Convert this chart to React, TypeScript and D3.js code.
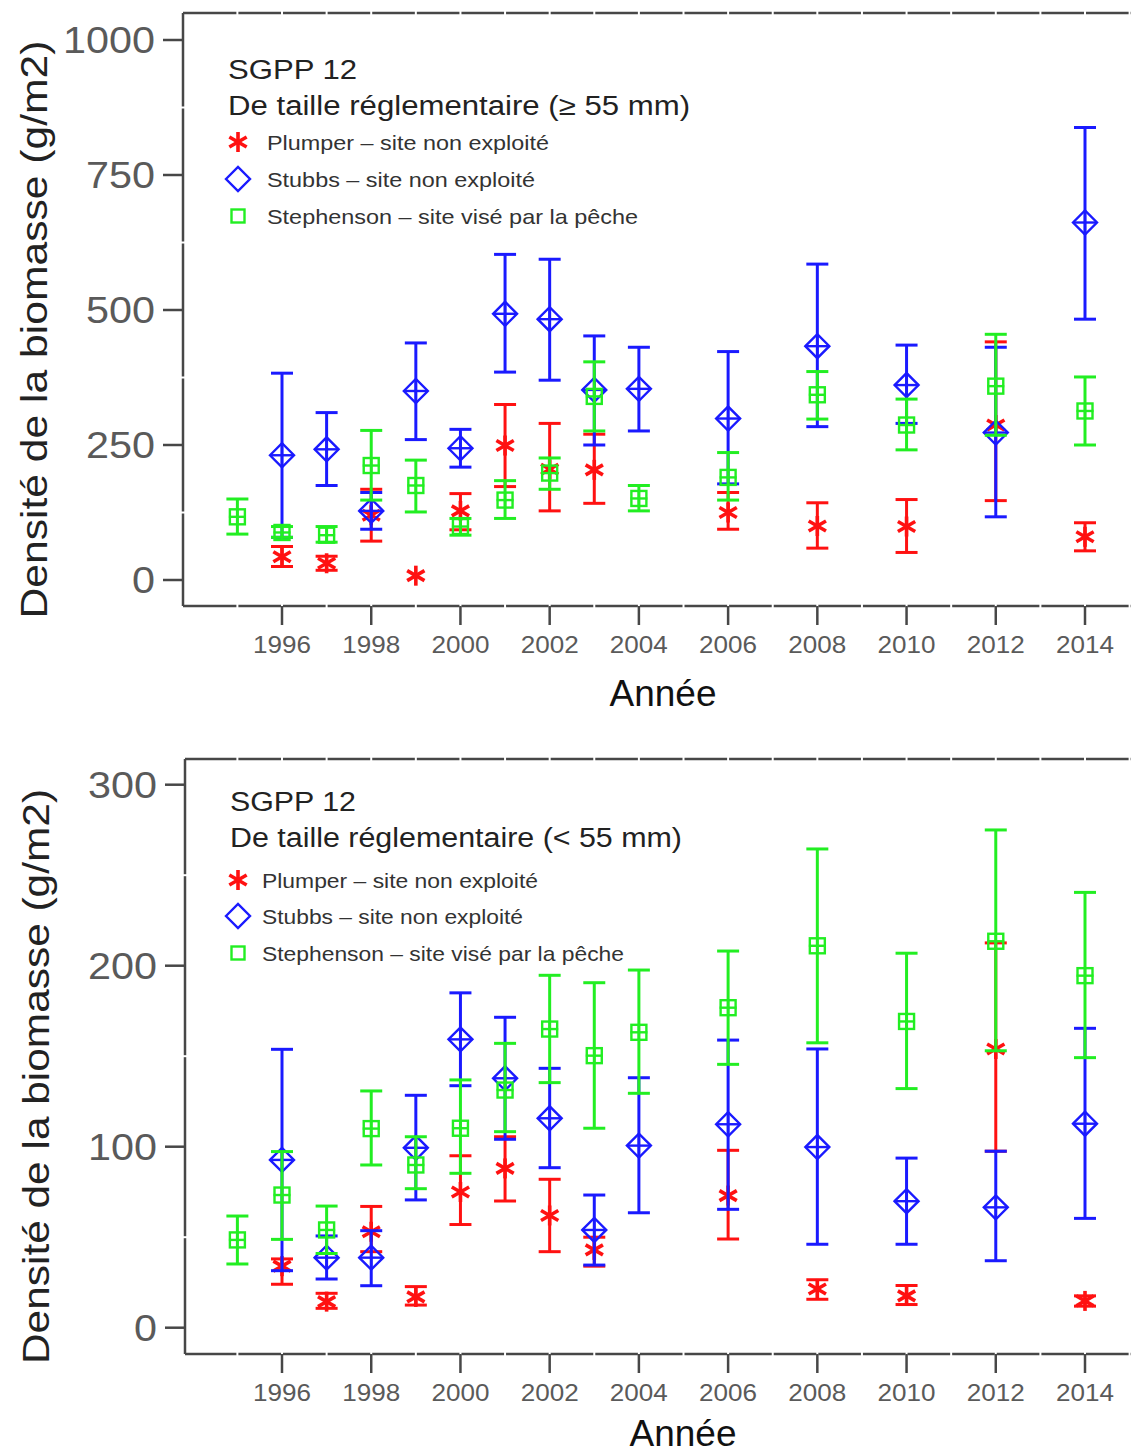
import { useEffect } from "react"
import * as d3 from "d3"

// [year, mean, lower, upper]
type Pt = [number, number, number | null, number | null]

const YEAR_TICKS = [1996, 1998, 2000, 2002, 2004, 2006, 2008, 2010, 2012, 2014]
const GAP_YEARS = d3.range(1995, 2016)

// panneau du haut : >= 55 mm
const TOP_Y_TICKS = [0, 250, 500, 750, 1000]
const TOP_Y_GAPS = [125, 375, 625, 875]
const topPlumper: Pt[] = [
  [1996, 43, 25, 62], [1997, 31, 18, 44], [1998, 120, 72, 168], [1999, 8, null, null],
  [2000, 128, 93, 160], [2001, 249, 173, 325], [2002, 205, 128, 290], [2003, 204, 142, 270],
  [2006, 125, 94, 162], [2008, 100, 59, 143], [2010, 99, 51, 149], [2012, 287, 147, 441],
  [2014, 80, 54, 106],
]
const topStubbs: Pt[] = [
  [1996, 231, 79, 383], [1997, 242, 175, 310], [1998, 128, 94, 162], [1999, 350, 260, 439],
  [2000, 244, 209, 279], [2001, 493, 385, 603], [2002, 483, 370, 594], [2003, 352, 250, 452],
  [2004, 354, 276, 431], [2006, 299, 178, 423], [2008, 433, 284, 585], [2010, 361, 290, 435],
  [2012, 273, 117, 431], [2014, 662, 483, 838],
]
const topStephenson: Pt[] = [
  [1995, 117, 85, 150], [1996, 88, 79, 99], [1997, 83, 70, 99], [1998, 212, 148, 277],
  [1999, 175, 126, 222], [2000, 99, 83, 114], [2001, 148, 114, 184], [2002, 198, 168, 226],
  [2003, 340, 276, 404], [2004, 151, 128, 175], [2006, 190, 148, 236], [2008, 343, 298, 386],
  [2010, 287, 241, 335], [2012, 359, 268, 455], [2014, 313, 250, 376],
]

// panneau du bas : < 55 mm
const BOT_Y_TICKS = [0, 100, 200, 300]
const BOT_Y_GAPS = [50, 150, 250]
const botPlumper: Pt[] = [
  [1996, 34, 24, 38], [1997, 14.4, 10.7, 19], [1998, 53, 42, 67], [1999, 17, 12.5, 22.7],
  [2000, 75, 57, 95], [2001, 88, 70, 105.5], [2002, 62, 42, 82], [2003, 43, 34, 50],
  [2006, 73, 49, 98], [2008, 21.4, 15.7, 26.5], [2010, 17.6, 12.8, 23.3], [2012, 154, 97.5, 212.6],
  [2014, 14.8, 11.9, 17.6],
]
const botStubbs: Pt[] = [
  [1996, 92.7, 31.5, 153.8], [1997, 38.7, 26.9, 50.7], [1998, 38.7, 23.2, 53.6], [1999, 99.4, 70.6, 128.4],
  [2000, 159.3, 133.7, 185], [2001, 137.8, 104.1, 171.5], [2002, 115.7, 88.4, 143.3], [2003, 54, 34.6, 73.3],
  [2004, 100.6, 63.5, 138.1], [2006, 112.4, 65.4, 158.9], [2008, 99.8, 46.1, 154], [2010, 69.9, 46.1, 93.7],
  [2012, 66.5, 37, 97.5], [2014, 112.7, 60.4, 165.4],
]
const botStephenson: Pt[] = [
  [1995, 48.5, 35.2, 61.7], [1996, 73.3, 48.8, 97.3], [1997, 54, 41, 67.2], [1998, 110, 89.9, 130.8],
  [1999, 89.9, 76.8, 105.5], [2000, 110.2, 85.3, 136.9], [2001, 131.3, 108.3, 157.1], [2002, 165, 135.4, 194.7],
  [2003, 150.3, 110.2, 190.6], [2004, 163.2, 129.5, 197.6], [2006, 176.8, 145.5, 208.1], [2008, 211, 157.4, 264.5],
  [2010, 169.2, 132.1, 206.9], [2012, 213.5, 153, 275], [2014, 194.5, 149.2, 240.5],
]

const LEGEND_LABELS = [
  "Plumper – site non exploité",
  "Stubbs – site non exploité",
  "Stephenson – site visé par la pêche",
]

const RED = "#ff1111"
const BLUE = "#1a1aff"
const GREEN = "#22ee22"
const AXIS = "#474747"
const TICK_TXT = "#5a5a5a"
const TXT = "#222"
const FONT = "'Liberation Sans', Arial, sans-serif"
const W = 1131
const H = 1454

type Shape = "star" | "diamond" | "square"

function Marker({ shape, x, y, color, legend = false }: { shape: Shape; x: number; y: number; color: string; legend?: boolean }) {
  if (shape === "diamond") {
    const r = 12
    return (
      <g stroke={color} fill="none" strokeWidth={2.4}>
        <path d={`M${x - r},${y}L${x},${y - r}L${x + r},${y}L${x},${y + r}Z`} />
        {!legend && <line x1={x - r} x2={x + r} y1={y} y2={y} />}
        {!legend && <line x1={x} x2={x} y1={y - r} y2={y + r} />}
      </g>
    )
  }
  if (shape === "square") {
    const r = legend ? 6.5 : 7.5
    return (
      <g stroke={color} fill="none" strokeWidth={2.4}>
        <rect x={x - r} y={y - r} width={2 * r} height={2 * r} />
        {!legend && <line x1={x - r - 1} x2={x + r + 1} y1={y} y2={y} />}
        {!legend && <line x1={x} x2={x} y1={y - r} y2={y + r} />}
      </g>
    )
  }
  const r = 10
  const dx = r * Math.cos(Math.PI / 6)
  const dy = r * Math.sin(Math.PI / 6)
  return (
    <g stroke={color} fill="none" strokeWidth={3.6}>
      <line x1={x} x2={x} y1={y - r} y2={y + r} />
      <line x1={x - dx} x2={x + dx} y1={y - dy} y2={y + dy} />
      <line x1={x - dx} x2={x + dx} y1={y + dy} y2={y - dy} />
    </g>
  )
}

function Series({ data, shape, color, x, y }: { data: Pt[]; shape: Shape; color: string; x: d3.ScaleLinear<number, number>; y: d3.ScaleLinear<number, number> }) {
  const cap = 11
  return (
    <g>
      {data.map(([yr, m, lo, hi]) => {
        const cx = x(yr)
        return (
          <g key={yr}>
            {lo !== null && hi !== null && (
              <g stroke={color} strokeWidth={3}>
                <line x1={cx} x2={cx} y1={y(lo)} y2={y(hi)} />
                <line x1={cx - cap} x2={cx + cap} y1={y(lo)} y2={y(lo)} />
                <line x1={cx - cap} x2={cx + cap} y1={y(hi)} y2={y(hi)} />
              </g>
            )}
            <Marker shape={shape} x={cx} y={y(m)} color={color} />
          </g>
        )
      })}
    </g>
  )
}

interface PanelProps {
  top: number
  bottom: number
  left: number
  yDomainMax: number
  yZero: number
  yMaxPx: number
  yTicks: number[]
  yGaps: number[]
  plumper: Pt[]
  stubbs: Pt[]
  stephenson: Pt[]
  subtitle: string
  legendX: number
  legendTextX: number
  legendY: number
  itemYs: number[]
  titleW: number
  subtitleW: number
  itemW: number[]
  yLabelX: number
  yLabelLen: number
  anneeX: number
  anneeY: number
}

function Panel(p: PanelProps) {
  const x = d3.scaleLinear().domain([1996, 2014]).range([282, 1085])
  const y = d3.scaleLinear().domain([0, p.yDomainMax]).range([p.yZero, p.yMaxPx])
  const right = W
  const shapes: Shape[] = ["star", "diamond", "square"]
  const colors = [RED, BLUE, GREEN]
  return (
    <g fontFamily={FONT}>
      {/* cadre */}
      <g stroke={AXIS} strokeWidth={2.5}>
        <line x1={p.left} x2={right} y1={p.top} y2={p.top} />
        <line x1={p.left} x2={right} y1={p.bottom} y2={p.bottom} />
        <line x1={p.left} x2={p.left} y1={p.top} y2={p.bottom} />
      </g>
      <g fill="#fff">
        {GAP_YEARS.map((yr) => (
          <g key={yr}>
            <rect x={x(yr) - 1} y={p.top - 2} width={2} height={4} />
            <rect x={x(yr) - 1} y={p.bottom - 2} width={2} height={4} />
          </g>
        ))}
        {p.yGaps.map((v) => (
          <rect key={v} x={p.left - 2} y={y(v) - 1} width={4} height={2} />
        ))}
      </g>
      {/* graduations */}
      <g stroke={AXIS} strokeWidth={2.5}>
        {YEAR_TICKS.map((yr) => (
          <line key={yr} x1={x(yr)} x2={x(yr)} y1={p.bottom} y2={p.bottom + 19} />
        ))}
        {p.yTicks.map((v) => (
          <line key={v} x1={p.left - 20} x2={p.left} y1={y(v)} y2={y(v)} />
        ))}
      </g>
      <g fill={TICK_TXT} fontSize={24} textAnchor="middle">
        {YEAR_TICKS.map((yr) => (
          <text key={yr} x={x(yr)} y={p.bottom + 47} textLength={58} lengthAdjust="spacingAndGlyphs">{yr}</text>
        ))}
      </g>
      <g fill={TICK_TXT} fontSize={36} textAnchor="end">
        {p.yTicks.map((v) => (
          <text key={v} x={p.left - 28} y={y(v) + 13} textLength={String(v).length * 23} lengthAdjust="spacingAndGlyphs">{v}</text>
        ))}
      </g>
      {/* titres d'axes */}
      <text transform={`translate(${p.yLabelX},${(p.top + p.bottom) / 2 + 20}) rotate(-90)`} textAnchor="middle"
        fontSize={36} fill={TXT} textLength={p.yLabelLen} lengthAdjust="spacingAndGlyphs">
        Densité de la biomasse (g/m2)
      </text>
      <text x={p.anneeX} y={p.anneeY} textAnchor="middle" fontSize={37} fill="#111">Année</text>

      {/* données */}
      <Series data={p.plumper} shape="star" color={RED} x={x} y={y} />
      <Series data={p.stubbs} shape="diamond" color={BLUE} x={x} y={y} />
      <Series data={p.stephenson} shape="square" color={GREEN} x={x} y={y} />

      {/* légende */}
      <text x={p.legendX} y={p.legendY} fontSize={27} fill={TXT} textLength={p.titleW} lengthAdjust="spacingAndGlyphs">SGPP 12</text>
      <text x={p.legendX} y={p.legendY + 36} fontSize={27} fill={TXT} textLength={p.subtitleW} lengthAdjust="spacingAndGlyphs">{p.subtitle}</text>
      {LEGEND_LABELS.map((lab, i) => (
        <g key={lab}>
          <Marker shape={shapes[i]} x={238} y={p.itemYs[i] - 8} color={colors[i]} legend />
          <text x={p.legendTextX} y={p.itemYs[i]} fontSize={21} fill="#333" textLength={p.itemW[i]} lengthAdjust="spacingAndGlyphs">{lab}</text>
        </g>
      ))}
    </g>
  )
}

export default function App() {
  useEffect(() => {
    document.body.style.margin = "0"
  }, [])
  return (
    <svg width={W} height={H} viewBox={`0 0 ${W} ${H}`} style={{ display: "block", background: "#fff" }}>
      <rect width={W} height={H} fill="#fff" />
      <Panel
        top={13} bottom={606} left={183}
        yDomainMax={1000} yZero={580} yMaxPx={40}
        yTicks={TOP_Y_TICKS} yGaps={TOP_Y_GAPS}
        plumper={topPlumper} stubbs={topStubbs} stephenson={topStephenson}
        subtitle="De taille réglementaire (≥ 55 mm)"
        legendX={228} legendTextX={267} legendY={79}
        itemYs={[150, 187, 224]}
        titleW={129} subtitleW={462} itemW={[282, 268, 371]}
        yLabelX={47} yLabelLen={578}
        anneeX={663} anneeY={706}
      />
      <Panel
        top={759} bottom={1354} left={185}
        yDomainMax={300} yZero={1327.7} yMaxPx={784.7}
        yTicks={BOT_Y_TICKS} yGaps={BOT_Y_GAPS}
        plumper={botPlumper} stubbs={botStubbs} stephenson={botStephenson}
        subtitle="De taille réglementaire (< 55 mm)"
        legendX={230} legendTextX={262} legendY={811}
        itemYs={[888, 924, 961]}
        titleW={126} subtitleW={452} itemW={[276, 261, 362]}
        yLabelX={49} yLabelLen={575}
        anneeX={683} anneeY={1446}
      />
    </svg>
  )
}
